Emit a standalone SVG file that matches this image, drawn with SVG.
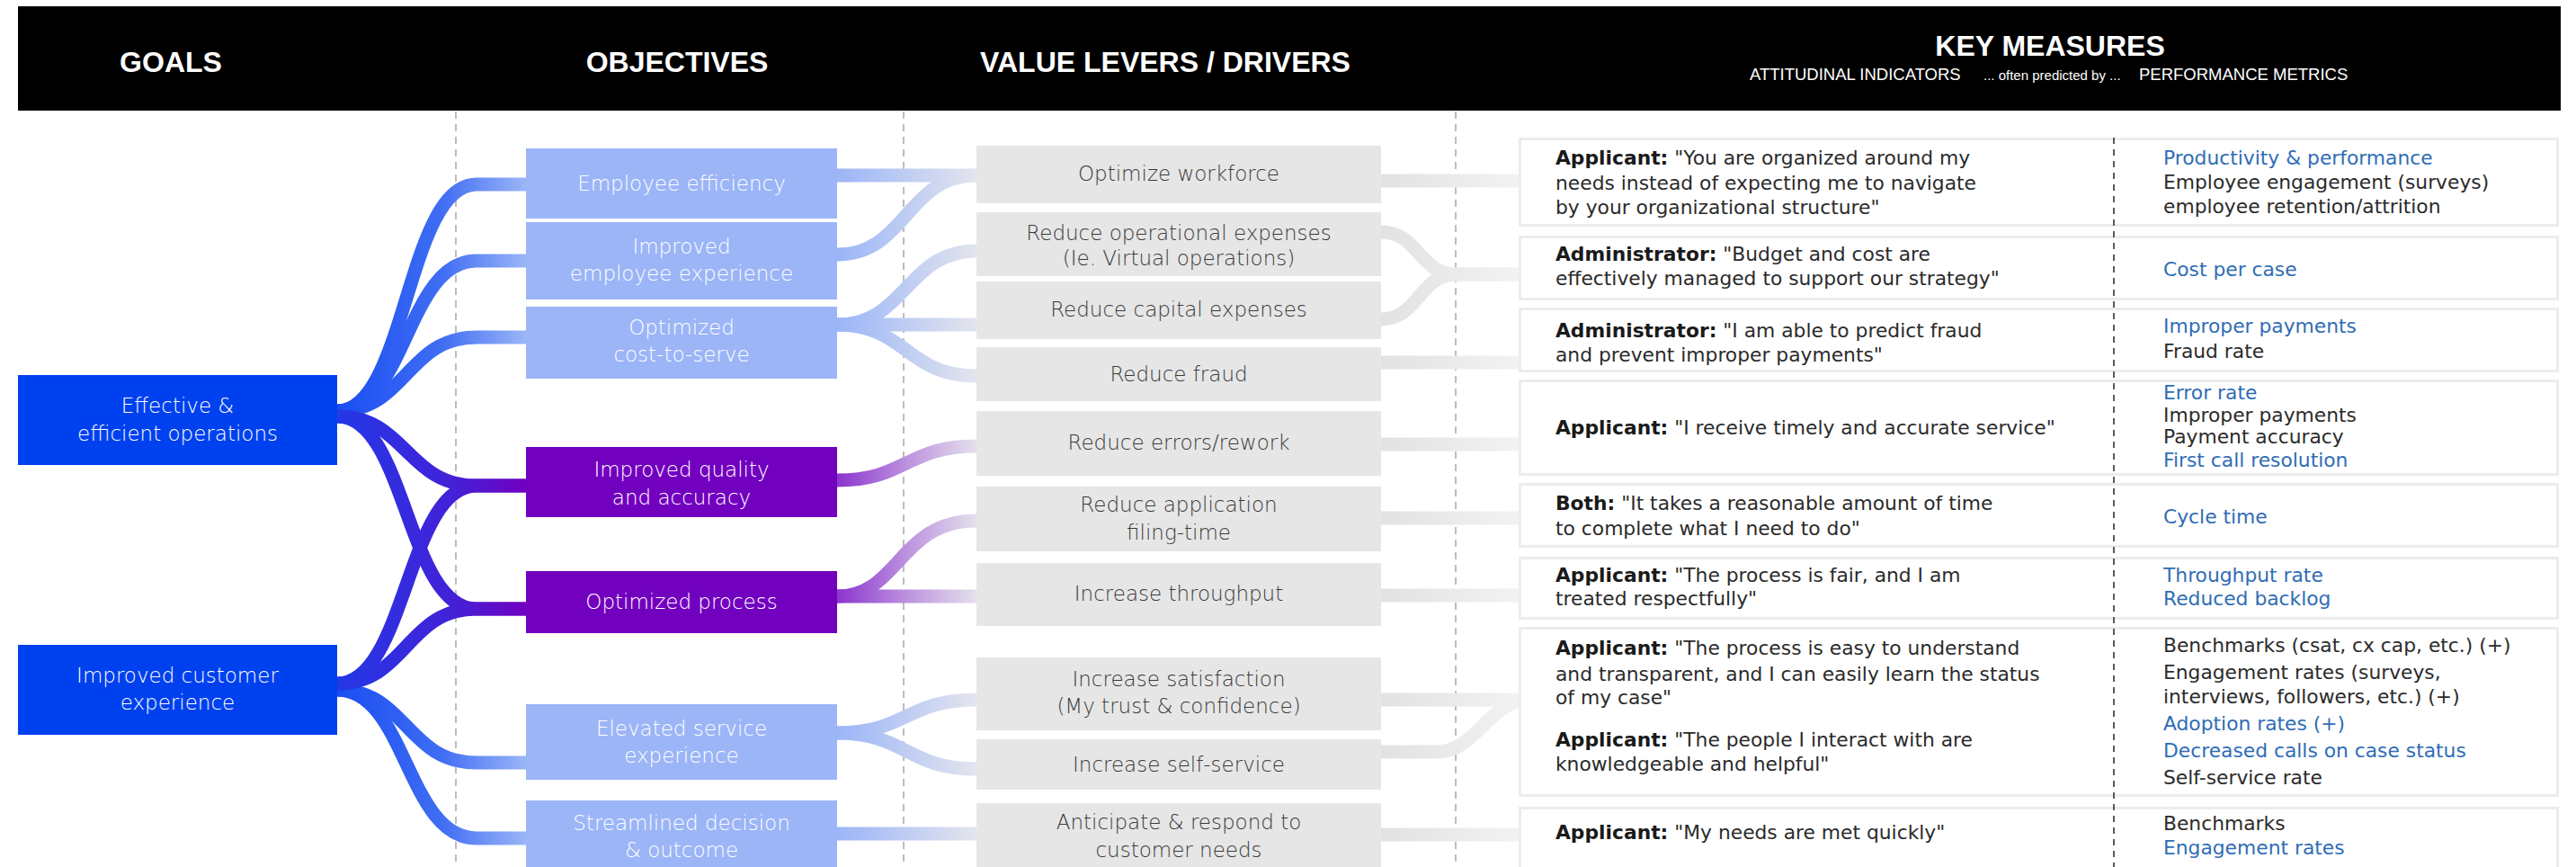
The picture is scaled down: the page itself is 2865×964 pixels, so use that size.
<svg xmlns="http://www.w3.org/2000/svg" width="2865" height="964" viewBox="0 0 2865 964">
<defs>
<style>
.hd{font-family:"Liberation Sans",Arial,sans-serif;font-weight:700;font-size:32px;fill:#fff;text-anchor:middle}
.sub{font-family:"Liberation Sans",Arial,sans-serif;font-size:18.5px;fill:#fff}
.sm{font-family:"Liberation Sans",Arial,sans-serif;font-size:15px;fill:#fff}
.bx{font-family:"DejaVu Sans","Liberation Sans",sans-serif;font-weight:300;font-size:23px;text-anchor:middle}
.wt{fill:#fff}
.dk{fill:#3a3a3a}
.goal{fill:#0041EF}
.objL{fill:#9BB5F7}
.objP{fill:#7200BF}
.lev{fill:#E6E6E6}
.mbox{fill:#fff;stroke:#ECECEC;stroke-width:3}
.ms{font-family:"DejaVu Sans","Liberation Sans",sans-serif;font-size:21.8px;fill:#2b2b2b}
.b{font-weight:700;fill:#1a1a1a}
.bl{fill:#2F6DB5}
.guide{stroke:#A8A8A8;stroke-width:1.5;stroke-dasharray:8 6;fill:none}
.sep{stroke:#4a4a4a;stroke-width:1.8;stroke-dasharray:7 6;fill:none}
.rb{fill:none;stroke-width:15}
</style>
<linearGradient id="gB1" gradientUnits="userSpaceOnUse" x1="375" y1="0" x2="585" y2="0">
<stop offset="0" stop-color="#1A4DF2"/><stop offset="0.55" stop-color="#3F6DF3"/><stop offset="1" stop-color="#9BB5F7"/>
</linearGradient>
<linearGradient id="gP1" gradientUnits="userSpaceOnUse" x1="375" y1="0" x2="585" y2="0">
<stop offset="0" stop-color="#2338E6"/><stop offset="0.6" stop-color="#4222D8"/><stop offset="1" stop-color="#7100C0"/>
</linearGradient>
<linearGradient id="gB2" gradientUnits="userSpaceOnUse" x1="931" y1="0" x2="1086" y2="0">
<stop offset="0" stop-color="#9BB5F7"/><stop offset="1" stop-color="#E3E5EE"/>
</linearGradient>
<linearGradient id="gP2" gradientUnits="userSpaceOnUse" x1="931" y1="0" x2="1086" y2="0">
<stop offset="0" stop-color="#8C35CF"/><stop offset="0.5" stop-color="#BC92DE"/><stop offset="1" stop-color="#E4E0EC"/>
</linearGradient>
<linearGradient id="gG" gradientUnits="userSpaceOnUse" x1="1536" y1="0" x2="1689" y2="0">
<stop offset="0" stop-color="#E2E2E2"/><stop offset="1" stop-color="#F2F2F2"/>
</linearGradient>
</defs>
<rect x="0" y="0" width="2865" height="964" fill="#fff"/>

<g id="header">
<rect x="20" y="7" width="2828" height="116" fill="#000"/>
<text class="hd" x="190" y="80">GOALS</text>
<text class="hd" x="753" y="80">OBJECTIVES</text>
<text class="hd" x="1296" y="80">VALUE LEVERS / DRIVERS</text>
<text class="hd" x="2280" y="62">KEY MEASURES</text>
<text class="sub" x="1946" y="89">ATTITUDINAL INDICATORS</text>
<text class="sm" x="2206" y="89">... often predicted by ...</text>
<text class="sub" x="2379" y="89">PERFORMANCE METRICS</text>
</g>

<g id="guides">
<line class="guide" x1="507" y1="124" x2="507" y2="964"/>
<line class="guide" x1="1005" y1="124" x2="1005" y2="964"/>
<line class="guide" x1="1619" y1="124" x2="1619" y2="964"/>
</g>

<g id="connectors">
<path class="rb" stroke="url(#gB1)" d="M375,457 C452,457 452,205 530,205 L585,205"/>
<path class="rb" stroke="url(#gB1)" d="M375,457 C452,457 452,290 530,290 L585,290"/>
<path class="rb" stroke="url(#gB1)" d="M375,457 C452,457 452,375 530,375 L585,375"/>
<path class="rb" stroke="url(#gB1)" d="M375,767 C452,767 452,848 530,848 L585,848"/>
<path class="rb" stroke="url(#gB1)" d="M375,767 C452,767 452,932 530,932 L585,932"/>
<path class="rb" stroke="url(#gP1)" d="M375,463 C452,463 452,540 530,540 L585,540"/>
<path class="rb" stroke="url(#gP1)" d="M375,463 C452,463 452,677 530,677 L585,677"/>
<path class="rb" stroke="url(#gP1)" d="M375,760 C452,760 452,540 530,540 L585,540"/>
<path class="rb" stroke="url(#gP1)" d="M375,760 C452,760 452,677 530,677 L585,677"/>

<path class="rb" stroke="url(#gB2)" d="M931,195 L1086,195"/>
<path class="rb" stroke="url(#gB2)" d="M931,283 C1008,283 1008,195 1086,195"/>
<path class="rb" stroke="url(#gB2)" d="M931,361 C1008,361 1008,279 1086,279"/>
<path class="rb" stroke="url(#gB2)" d="M931,361 L1086,361"/>
<path class="rb" stroke="url(#gB2)" d="M931,361 C1008,361 1008,418 1086,418"/>
<path class="rb" stroke="url(#gP2)" d="M931,534 C1008,534 1008,496 1086,496"/>
<path class="rb" stroke="url(#gP2)" d="M931,663 C1000,663 1000,579 1086,579"/>
<path class="rb" stroke="url(#gP2)" d="M931,663 L1086,663"/>
<path class="rb" stroke="url(#gB2)" d="M931,815 C1008,815 1008,778 1086,778"/>
<path class="rb" stroke="url(#gB2)" d="M931,815 C1008,815 1008,855 1086,855"/>
<path class="rb" stroke="url(#gB2)" d="M931,927 L1086,927"/>

<path class="rb" stroke="url(#gG)" d="M1536,201 L1689,201"/>
<path class="rb" stroke="url(#gG)" d="M1536,258 C1578,258 1578,305 1620,305 L1689,305"/>
<path class="rb" stroke="url(#gG)" d="M1536,355 C1578,355 1578,305 1620,305 L1689,305"/>
<path class="rb" stroke="url(#gG)" d="M1536,403 L1689,403"/>
<path class="rb" stroke="url(#gG)" d="M1536,494 L1689,494"/>
<path class="rb" stroke="url(#gG)" d="M1536,576 L1689,576"/>
<path class="rb" stroke="url(#gG)" d="M1536,662 L1689,662"/>
<path class="rb" stroke="url(#gG)" d="M1536,778 L1689,778"/>
<path class="rb" stroke="url(#gG)" d="M1536,836 L1598,836 C1640,836 1652,786 1695,778"/>
<path class="rb" stroke="url(#gG)" d="M1536,928 L1689,928"/>
</g>

<g id="goal-effective-operations">
<rect class="goal" x="20" y="417" width="355" height="100"/>
<text class="bx wt" x="197.5" y="459">Effective &amp;</text>
<text class="bx wt" x="197.5" y="490">efficient operations</text>
</g>
<g id="goal-customer-experience">
<rect class="goal" x="20" y="717" width="355" height="100"/>
<text class="bx wt" x="197.5" y="759">Improved customer</text>
<text class="bx wt" x="197.5" y="789">experience</text>
</g>

<g id="obj-employee-efficiency">
<rect class="objL" x="585" y="165" width="346" height="78"/>
<text class="bx wt" x="758" y="212">Employee efficiency</text>
</g>
<g id="obj-employee-experience">
<rect class="objL" x="585" y="247" width="346" height="86"/>
<text class="bx wt" x="758" y="282">Improved</text>
<text class="bx wt" x="758" y="312">employee experience</text>
</g>
<g id="obj-cost-to-serve">
<rect class="objL" x="585" y="341" width="346" height="80"/>
<text class="bx wt" x="758" y="372">Optimized</text>
<text class="bx wt" x="758" y="402">cost-to-serve</text>
</g>
<g id="obj-quality-accuracy">
<rect class="objP" x="585" y="497" width="346" height="78"/>
<text class="bx wt" x="758" y="530">Improved quality</text>
<text class="bx wt" x="758" y="561">and accuracy</text>
</g>
<g id="obj-optimized-process">
<rect class="objP" x="585" y="635" width="346" height="69"/>
<text class="bx wt" x="758" y="677">Optimized process</text>
</g>
<g id="obj-elevated-service">
<rect class="objL" x="585" y="783" width="346" height="84"/>
<text class="bx wt" x="758" y="818">Elevated service</text>
<text class="bx wt" x="758" y="848">experience</text>
</g>
<g id="obj-streamlined-decision">
<rect class="objL" x="585" y="890" width="346" height="90"/>
<text class="bx wt" x="758" y="923">Streamlined decision</text>
<text class="bx wt" x="758" y="953">&amp; outcome</text>
</g>

<g id="lev-optimize-workforce">
<rect class="lev" x="1086" y="162" width="450" height="64"/>
<text class="bx dk" x="1311" y="201">Optimize workforce</text>
</g>
<g id="lev-operational-expenses">
<rect class="lev" x="1086" y="236" width="450" height="71"/>
<text class="bx dk" x="1311" y="267">Reduce operational expenses</text>
<text class="bx dk" x="1311" y="295">(Ie. Virtual operations)</text>
</g>
<g id="lev-capital-expenses">
<rect class="lev" x="1086" y="313" width="450" height="64"/>
<text class="bx dk" x="1311" y="352">Reduce capital expenses</text>
</g>
<g id="lev-fraud">
<rect class="lev" x="1086" y="386" width="450" height="60"/>
<text class="bx dk" x="1311" y="424">Reduce fraud</text>
</g>
<g id="lev-errors">
<rect class="lev" x="1086" y="457" width="450" height="72"/>
<text class="bx dk" x="1311" y="500">Reduce errors/rework</text>
</g>
<g id="lev-filing-time">
<rect class="lev" x="1086" y="541" width="450" height="72"/>
<text class="bx dk" x="1311" y="569">Reduce application</text>
<text class="bx dk" x="1311" y="600">filing-time</text>
</g>
<g id="lev-throughput">
<rect class="lev" x="1086" y="626" width="450" height="70"/>
<text class="bx dk" x="1311" y="668">Increase throughput</text>
</g>
<g id="lev-satisfaction">
<rect class="lev" x="1086" y="731" width="450" height="81"/>
<text class="bx dk" x="1311" y="763">Increase satisfaction</text>
<text class="bx dk" x="1311" y="793">(My trust &amp; confidence)</text>
</g>
<g id="lev-self-service">
<rect class="lev" x="1086" y="822" width="450" height="56"/>
<text class="bx dk" x="1311" y="858">Increase self-service</text>
</g>
<g id="lev-anticipate">
<rect class="lev" x="1086" y="893" width="450" height="90"/>
<text class="bx dk" x="1311" y="922">Anticipate &amp; respond to</text>
<text class="bx dk" x="1311" y="953">customer needs</text>
</g>

<g id="measure-1">
<rect class="mbox" x="1690.5" y="154.5" width="1154" height="96"/>
<text class="ms" x="1730" y="183"><tspan class="b">Applicant:</tspan> "You are organized around my</text>
<text class="ms" x="1730" y="211">needs instead of expecting me to navigate</text>
<text class="ms" x="1730" y="238">by your organizational structure"</text>
<text class="ms bl" x="2406" y="183">Productivity &amp; performance</text>
<text class="ms" x="2406" y="210">Employee engagement (surveys)</text>
<text class="ms" x="2406" y="237">employee retention/attrition</text>
</g>
<g id="measure-2">
<rect class="mbox" x="1690.5" y="263.5" width="1154" height="69"/>
<text class="ms" x="1730" y="290"><tspan class="b">Administrator:</tspan> "Budget and cost are</text>
<text class="ms" x="1730" y="317">effectively managed to support our strategy"</text>
<text class="ms bl" x="2406" y="307">Cost per case</text>
</g>
<g id="measure-3">
<rect class="mbox" x="1690.5" y="343.5" width="1154" height="69"/>
<text class="ms" x="1730" y="375"><tspan class="b">Administrator:</tspan> "I am able to predict fraud</text>
<text class="ms" x="1730" y="402">and prevent improper payments"</text>
<text class="ms bl" x="2406" y="370">Improper payments</text>
<text class="ms" x="2406" y="398">Fraud rate</text>
</g>
<g id="measure-4">
<rect class="mbox" x="1690.5" y="423.5" width="1154" height="104"/>
<text class="ms" x="1730" y="483"><tspan class="b">Applicant:</tspan> "I receive timely and accurate service"</text>
<text class="ms bl" x="2406" y="444">Error rate</text>
<text class="ms" x="2406" y="469">Improper payments</text>
<text class="ms" x="2406" y="493">Payment accuracy</text>
<text class="ms bl" x="2406" y="519">First call resolution</text>
</g>
<g id="measure-5">
<rect class="mbox" x="1690.5" y="538.5" width="1154" height="69"/>
<text class="ms" x="1730" y="567"><tspan class="b">Both:</tspan> "It takes a reasonable amount of time</text>
<text class="ms" x="1730" y="595">to complete what I need to do"</text>
<text class="ms bl" x="2406" y="582">Cycle time</text>
</g>
<g id="measure-6">
<rect class="mbox" x="1690.5" y="620.5" width="1154" height="67"/>
<text class="ms" x="1730" y="647"><tspan class="b">Applicant:</tspan> "The process is fair, and I am</text>
<text class="ms" x="1730" y="673">treated respectfully"</text>
<text class="ms bl" x="2406" y="647">Throughput rate</text>
<text class="ms bl" x="2406" y="673">Reduced backlog</text>
</g>
<g id="measure-7">
<rect class="mbox" x="1690.5" y="698.5" width="1154" height="186"/>
<text class="ms" x="1730" y="728"><tspan class="b">Applicant:</tspan> "The process is easy to understand</text>
<text class="ms" x="1730" y="757">and transparent, and I can easily learn the status</text>
<text class="ms" x="1730" y="783">of my case"</text>
<text class="ms" x="1730" y="830"><tspan class="b">Applicant:</tspan> "The people I interact with are</text>
<text class="ms" x="1730" y="857">knowledgeable and helpful"</text>
<text class="ms" x="2406" y="725">Benchmarks (csat, cx cap, etc.) (+)</text>
<text class="ms" x="2406" y="755">Engagement rates (surveys,</text>
<text class="ms" x="2406" y="782">interviews, followers, etc.) (+)</text>
<text class="ms bl" x="2406" y="812">Adoption rates (+)</text>
<text class="ms bl" x="2406" y="842">Decreased calls on case status</text>
<text class="ms" x="2406" y="872">Self-service rate</text>
</g>
<g id="measure-8">
<rect class="mbox" x="1690.5" y="898.5" width="1154" height="100"/>
<text class="ms" x="1730" y="933"><tspan class="b">Applicant:</tspan> "My needs are met quickly"</text>
<text class="ms" x="2406" y="923">Benchmarks</text>
<text class="ms bl" x="2406" y="950">Engagement rates</text>
</g>

<g id="measure-separator">
<line class="sep" x1="2351" y1="153" x2="2351" y2="964"/>
</g>
</svg>
